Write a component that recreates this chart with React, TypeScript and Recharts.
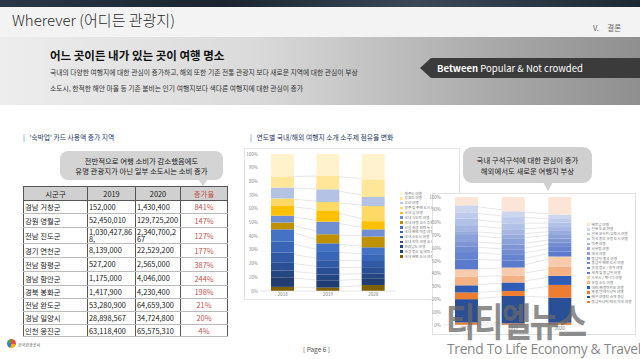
import React from 'react';
import {
  ComposedChart,
  Bar,
  Line,
  XAxis,
  YAxis,
  Legend
} from 'recharts';

// ---- data ----
const years = ['2018', '2019', '2020'];

// domestic topics, legend order (top of stack first)
const domesticNames = [
  '제주도 여행',
  '강원도 여행',
  '부산 여행',
  '경주 및 주변 도시 여행',
  '국내 섬 여행',
  '국내 식도락 여행',
  '국내 여행 코스 추천',
  '서울 관광 관련 뉴스 및 프로그램',
  '국내 해변 마을 여행',
  '국내 소도시 여행',
  '국내 지역 여행 코스 소개',
  '한려남도 여행',
  '관광 명소 및 테마 소개',
  '국내 해변 도시 여행'
];
const domesticColors = [
  '#fff2cc', '#ffe699', '#b4c2e4', '#ffd966', '#ffc000', '#6f8fd2', '#bf9000',
  '#4472c4', '#3a66b8', '#3159a6', '#2b4f94', '#264681', '#213c70', '#7f6000'
];
// [2018, 2019, 2020] share (%)
const domesticValues = [
  [16.5, 16, 18.5],
  [8, 9.8, 12.9],
  [8, 9.2, 6.6],
  [5, 6.6, 11],
  [7.5, 7.8, 6],
  [5, 9.2, 5.3],
  [5, 6.6, 7.8],
  [9, 6.3, 5],
  [8, 6, 5],
  [7, 5.5, 4.5],
  [6, 5, 4.5],
  [5, 4.5, 4],
  [7, 5, 4.5],
  [3, 2.5, 4.4]
];

// overseas topics, legend order (top of stack first)
const overseasNames = [
  '베트남 여행',
  '일본 도쿄 여행',
  '일본 오사카/교토시 여행',
  '미국 동부 유명 도시 여행',
  '미주 여행',
  '서유럽 여행',
  '태국 여행',
  '동남아/중국 여행',
  '동남아 해변 도시 여행',
  '휴양 명소 / 휴가 여행',
  '세계 및 동남아 여행',
  '스위스 / 캐나다 여행',
  '유럽 소도 여행',
  '대만/홍콩마카오 여행',
  '홍콩/말레이시아 여행',
  '해외 여행지 소개 영상',
  '동남아시아/태국/미국 여행'
];
const overseasColors = [
  '#fbe5d6', '#cdd6ef', '#bfcbea', '#b2c1e6', '#a5b6e2', '#98abdd', '#8ba1d9',
  '#7e96d5', '#728cd2', '#6683d0', '#5a7acb', '#f8cbad', '#f4b183', '#2f5cb4',
  '#ed7d31', '#2a4f96', '#ed7d31'
];
const overseasValues = [
  [6.5, 11.2, 13.8],
  [5.5, 4.5, 3.4],
  [5, 5, 3],
  [5, 4.5, 3.3],
  [4.7, 4, 3],
  [3, 3.5, 2.5],
  [4.8, 4.5, 3.5],
  [4, 4, 3.2],
  [4.5, 4, 3.3],
  [5.7, 4.4, 3.5],
  [7.8, 5.5, 4],
  [5.7, 6.3, 7.8],
  [6.8, 5.4, 7.3],
  [5.6, 6.6, 7.1],
  [5.2, 3.9, 9.9],
  [18.2, 21.4, 19.6],
  [2, 1.3, 1.8]
];

const pctTicks = [0, 10, 20, 30, 40, 50, 60, 70, 80, 90, 100];

// table
const regions = ['경남 거창군', '강원 영월군', '전남 진도군', '경기 연천군', '전남 함평군', '경남 함안군', '경북 봉화군', '전남 완도군', '경남 밀양시', '인천 옹진군'];
const spend2019 = ['152,000', '52,450,010', '1,030,427,868,', '8,139,000', '527,200', '1,175,000', '1,417,900', '53,280,900', '28,898,567', '63,118,400'];
const spend2020 = ['1,430,400', '129,725,200', '2,340,700,267', '22,529,200', '2,565,000', '4,046,000', '4,230,400', '64,659,300', '34,724,800', '65,575,310'];
const growth = ['841%', '147%', '127%', '177%', '387%', '244%', '198%', '21%', '20%', '4%'];

// build rows: s{i} = value of series i (bottom-first), c{i} = cumulative top of it
function buildRows(values: number[][]) {
  const bottomFirst = [...values].reverse();
  return years.map((y, yi) => {
    const row: Record<string, any> = { year: y };
    let cum = 0;
    bottomFirst.forEach((v, i) => {
      row['s' + i] = v[yi];
      cum += v[yi];
      row['c' + i] = cum;
    });
    return row;
  });
}

const domesticRows = buildRows(domesticValues);
const overseasRows = buildRows(overseasValues);

const FONT = '"Noto Sans CJK KR", "Noto Sans", sans-serif';

function MiniLegend({ names, colors }: { names: string[]; colors: string[] }) {
  return (
    <div style={{ fontFamily: FONT }}>
      {names.map((n, i) => (
        <div key={n} style={{ display: 'flex', alignItems: 'center', height: 4.85, whiteSpace: 'nowrap' }}>
          <span style={{ width: 2.6, height: 2.6, background: colors[i], marginRight: 2, flex: 'none' }} />
          <span style={{ fontSize: 3.6, color: '#777', lineHeight: 1 }}>{n}</span>
        </div>
      ))}
    </div>
  );
}

function ShareChart(props: {
  rows: any[];
  names: string[];
  colors: string[];
  width: number;
  height: number;
  margin: any;
  yWidth: number;
  barSize: number;
  legendPos: { left: number; top: number };
}) {
  const { rows, names, colors } = props;
  const n = names.length;
  const bottomColors = [...colors].reverse();
  return (
    <ComposedChart width={props.width} height={props.height} data={rows} margin={props.margin}>
      <XAxis
        dataKey="year"
        height={8}
        tick={{ fontSize: 4.5, fill: '#777' }}
        tickLine={false}
        tickSize={0}
        axisLine={{ stroke: '#d9d9d9', strokeWidth: 0.6 }}
        tickMargin={2}
      />
      <YAxis
        domain={[0, 100]}
        ticks={pctTicks}
        tickFormatter={(v: number) => v + '%'}
        tick={{ fontSize: 4.5, fill: '#888' }}
        tickLine={false}
        tickSize={0}
        axisLine={false}
        width={props.yWidth}
        tickMargin={2}
        interval={0}
      />
      {Array.from({ length: n - 1 }, (_, i) => (
        <Line
          key={'l' + i}
          dataKey={'c' + i}
          stroke="#d6d6d6"
          strokeWidth={0.6}
          dot={false}
          activeDot={false}
          legendType="none"
          isAnimationActive={false}
          zIndex={0}
        />
      ))}
      {Array.from({ length: n }, (_, i) => (
        <Bar
          key={'b' + i}
          dataKey={'s' + i}
          stackId="a"
          fill={bottomColors[i]}
          barSize={props.barSize}
          isAnimationActive={false}
        />
      ))}
      <Legend
        layout="vertical"
        align="center"
        verticalAlign="middle"
        wrapperStyle={{ left: props.legendPos.left, top: props.legendPos.top, width: 'auto' }}
        content={() => <MiniLegend names={names} colors={colors} />}
      />
    </ComposedChart>
  );
}

const abs = (l: number, t: number, extra: React.CSSProperties = {}): React.CSSProperties => ({
  position: 'absolute',
  left: l,
  top: t,
  ...extra
});

const rowHeights = [14, 12.5, 14, 16, 14, 14, 14, 13, 13, 13, 12.5];

export default function App() {
  return (
    <div
      style={{
        position: 'absolute',
        left: 0,
        top: 0,
        width: 640,
        height: 359,
        overflow: 'hidden',
        background: '#fff',
        fontFamily: FONT
      }}
    >
      {/* top photo strip */}
      <div style={abs(0, 0, { width: 640, height: 7, background: 'linear-gradient(90deg,#2b3746,#1b2430 35%,#3a4856 65%,#1d2833)' })} />
      {/* title bar */}
      <div style={abs(0, 7, { width: 640, height: 30, background: '#f3f3f3' })} />
      <div style={abs(12, 9, { fontSize: 15, color: '#2a2a2a', fontWeight: 300, whiteSpace: 'nowrap' })}>Wherever (어디든 관광지)</div>
      <div style={abs(593, 22, { fontSize: 7.5, color: '#666', whiteSpace: 'pre' })}>{'V.     결론'}</div>

      {/* banner */}
      <div style={abs(0, 37, { width: 640, height: 68, background: 'linear-gradient(90deg,#ededed 0%,#dadada 40%,#a8a8a8 78%,#8f8f8f 100%)' })} />
      <div style={abs(50, 47, { fontSize: 11.5, fontWeight: 700, color: '#111', whiteSpace: 'nowrap' })}>어느 곳이든 내가 있는 곳이 여행 명소</div>
      <div style={abs(50, 67, { fontSize: 6.8, color: '#333', whiteSpace: 'nowrap' })}>
        국내의 다양한 여행지에 대한 관심이 증가하고, 해외 또한 기존 전통 관광지 보다 새로운 지역에 대한 관심이 부상
      </div>
      <div style={abs(50, 83, { fontSize: 6.8, color: '#333', whiteSpace: 'nowrap' })}>
        소도시, 한적한 해안 마을 등 기존 붐비는 인기 여행지보다 색다른 여행지에 대한 관심이 증가
      </div>
      <div
        style={abs(420, 58, {
          width: 220,
          height: 20,
          background: '#3b3b3b',
          clipPath: 'polygon(0 50%, 11px 0, 100% 0, 100% 100%, 11px 100%)'
        })}
      />
      <div style={abs(437, 58, { fontSize: 9.5, lineHeight: '20px', color: '#fff', whiteSpace: 'nowrap' })}>
        <b>Between</b> Popular &amp; Not crowded
      </div>

      {/* left section */}
      <div style={abs(23, 132, { fontSize: 6.8, color: '#1f3864', whiteSpace: 'pre' })}>
        <span style={{ color: '#2f5597' }}>|</span>{'   \'숙박업\' 카드 사용액 증가 지역'}
      </div>
      <div
        style={abs(60, 151, {
          width: 163,
          height: 29,
          background: '#d4d4d4',
          borderRadius: 8,
          fontSize: 7.4,
          color: '#222',
          textAlign: 'center',
          lineHeight: '10px',
          paddingTop: 4.5,
          boxSizing: 'border-box'
        })}
      >
        전반적으로 여행 소비가 감소했음에도
        <br />
        유명 관광지가 아닌 일부 소도시는 소비 증가
      </div>
      <div style={abs(198, 179, { width: 0, height: 0, borderLeft: '5px solid transparent', borderRight: '5px solid transparent', borderTop: '7px solid #d4d4d4' })} />

      <table
        style={abs(23, 186, {
          width: 204,
          borderCollapse: 'collapse',
          tableLayout: 'fixed',
          fontSize: 7.4,
          color: '#222',
          border: '1px solid #555'
        })}
      >
        <colgroup>
          <col style={{ width: 64 }} />
          <col style={{ width: 48 }} />
          <col style={{ width: 45 }} />
          <col style={{ width: 47 }} />
        </colgroup>
        <thead>
          <tr style={{ height: rowHeights[0], background: '#d0d0d0' }}>
            {['시군구', '2019', '2020', '증가율'].map((h, i) => (
              <th
                key={h}
                style={{
                  fontWeight: 400,
                  padding: 0,
                  border: '1px solid #555',
                  color: i === 3 ? '#c0504d' : '#222'
                }}
              >
                {h}
              </th>
            ))}
          </tr>
        </thead>
        <tbody>
          {regions.map((r, i) => (
            <tr key={r} style={{ height: rowHeights[i + 1] }}>
              <td style={{ padding: '0 1px', borderLeft: '1px solid #555', borderRight: '1px solid #555', borderBottom: '1px solid #bbb', whiteSpace: 'nowrap' }}>{r}</td>
              <td style={{ padding: '0 1px', lineHeight: '7.5px', wordBreak: 'break-all', borderRight: '1px solid #555', borderBottom: '1px solid #bbb' }}>{spend2019[i]}</td>
              <td style={{ padding: '0 1px', lineHeight: '7.5px', wordBreak: 'break-all', borderRight: '1px solid #555', borderBottom: '1px solid #bbb' }}>{spend2020[i]}</td>
              <td style={{ padding: 0, textAlign: 'center', color: '#c0504d', borderBottom: '1px solid #bbb' }}>{growth[i]}</td>
            </tr>
          ))}
        </tbody>
      </table>

      {/* right section */}
      <div style={abs(250, 132, { fontSize: 6.8, color: '#1f3864', whiteSpace: 'pre' })}>
        <span style={{ color: '#2f5597' }}>|</span>{'   연도별 국내/해외 여행지 소개 소주제 점유율 변화'}
      </div>

      {/* domestic chart */}
      <div style={abs(244, 148, { width: 216, height: 152, border: '0.6px solid #e2e2e2', boxSizing: 'border-box', background: '#fff' })} />
      <div style={abs(245, 148)}>
        <ShareChart
          rows={domesticRows}
          names={domesticNames}
          colors={domesticColors}
          width={215}
          height={158}
          margin={{ top: 6, right: 64, bottom: 7, left: 0 }}
          yWidth={15}
          barSize={23}
          legendPos={{ left: 155, top: 43 }}
        />
      </div>

      {/* overseas chart */}
      <div style={abs(432, 193, { width: 204, height: 142, border: '0.6px solid #e2e2e2', boxSizing: 'border-box', background: '#fff' })} />
      <div style={abs(430, 193)}>
        <ShareChart
          rows={overseasRows}
          names={overseasNames}
          colors={overseasColors}
          width={206}
          height={148}
          margin={{ top: 4, right: 53, bottom: 8, left: 0 }}
          yWidth={13}
          barSize={23}
          legendPos={{ left: 157, top: 29 }}
        />
      </div>

      {/* right callout */}
      <div
        style={abs(463, 147, {
          width: 129,
          height: 36,
          background: '#d0d0d0',
          borderRadius: 9,
          fontSize: 7.4,
          color: '#222',
          textAlign: 'center',
          lineHeight: '11px',
          paddingTop: 7,
          boxSizing: 'border-box'
        })}
      >
        국내 구석구석에 대한 관심이 증가
        <br />
        해외에서도 새로운 여행지 부상
      </div>
      <div style={abs(543, 182, { width: 0, height: 0, borderLeft: '5px solid transparent', borderRight: '5px solid transparent', borderTop: '9px solid #d0d0d0' })} />

      {/* footer */}
      <div style={abs(7, 339, { width: 9, height: 9, borderRadius: '50%', background: 'conic-gradient(#e94e3c 0 30%, #f4b400 30% 55%, #3a7bd5 55% 80%, #34a853 80%)' })} />
      <div style={abs(18, 342, { fontSize: 4, color: '#555', whiteSpace: 'nowrap' })}>한국관광공사</div>
      <div style={abs(303, 344, { fontSize: 6.5, color: '#555', whiteSpace: 'pre' })}>{'[ Page 6 ]'}</div>

      {/* watermark */}
      <div
        style={abs(446, 300, {
          fontSize: 32,
          fontWeight: 700,
          color: 'rgba(105,105,105,0.75)',
          letterSpacing: -1.5,
          whiteSpace: 'nowrap',
          lineHeight: 1,
          transform: 'scaleY(1.2)',
          transformOrigin: 'top left'
        })}
      >
        티티엘뉴스
      </div>
      <div style={abs(447, 339, { fontSize: 13.8, color: 'rgba(110,110,110,0.85)', whiteSpace: 'nowrap', fontFamily: '"Open Sans", sans-serif', letterSpacing: -0.3 })}>
        Trend To Life Economy &amp; Travel
      </div>
    </div>
  );
}
